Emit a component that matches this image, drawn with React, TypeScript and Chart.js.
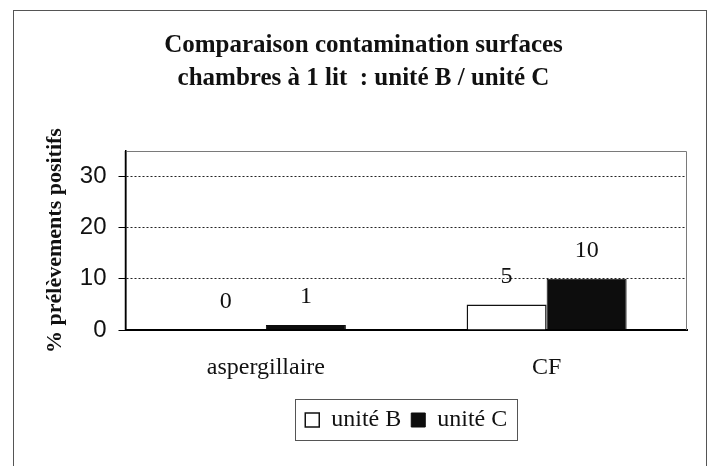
import React, { useEffect, useRef } from "react";
import { Chart, registerables } from "chart.js";

Chart.register(...registerables);

const categories = ["aspergillaire", "CF"];
const seriesNames = ["unité B", "unité C"];
const uniteB = [0, 5];
const uniteC = [1, 10];
const yTickValues = [0, 10, 20, 30];
const titleLines = ["Comparaison contamination surfaces", "chambres à 1 lit  : unité B / unité C"];
const yTitle = "% prélèvements positifs";

const SERIF = "'Liberation Serif', 'Times New Roman', serif";
const SANS = "'Liberation Sans', Arial, sans-serif";

const plotFrame = {
  id: "plotFrame",
  beforeDatasetsDraw(chart: any) {
    const { ctx, chartArea: a } = chart;
    ctx.save();
    ctx.strokeStyle = "#7a7a7a";
    ctx.lineWidth = 1;
    ctx.beginPath();
    ctx.moveTo(a.left, a.top + 0.5);
    ctx.lineTo(a.right - 0.5, a.top + 0.5);
    ctx.lineTo(a.right - 0.5, a.bottom);
    ctx.stroke();
    ctx.strokeStyle = "#000";
    ctx.lineWidth = 1.5;
    ctx.beginPath();
    ctx.moveTo(a.left, a.top);
    ctx.lineTo(a.left, a.bottom);
    ctx.stroke();
    ctx.restore();
  },
};

const valueLabels = {
  id: "valueLabels",
  afterDatasetsDraw(chart: any) {
    const { ctx } = chart;
    ctx.save();
    ctx.font = `24px ${SERIF}`;
    ctx.fillStyle = "#111";
    ctx.textAlign = "center";
    ctx.textBaseline = "middle";
    chart.data.datasets.forEach((ds: any, i: number) => {
      const meta = chart.getDatasetMeta(i);
      meta.data.forEach((bar: any, j: number) => {
        ctx.fillText(String(ds.data[j]), bar.x, bar.y - 28);
      });
    });
    ctx.restore();
  },
};

const legendBox = {
  id: "legendBox",
  afterDraw(chart: any) {
    const lg = chart.legend;
    if (!lg || !lg.legendHitBoxes || !lg.legendHitBoxes.length) return;
    let l = Infinity, r = -Infinity, t = Infinity, b = -Infinity;
    lg.legendHitBoxes.forEach((h: any) => {
      l = Math.min(l, h.left);
      r = Math.max(r, h.left + h.width);
      t = Math.min(t, h.top);
      b = Math.max(b, h.top + h.height);
    });
    const { ctx } = chart;
    ctx.save();
    ctx.strokeStyle = "#555";
    ctx.lineWidth = 1;
    ctx.strokeRect(Math.round(l - 10) + 0.5, Math.round(t - 9) + 0.5, Math.round(r - l + 20), Math.round(b - t + 17));
    ctx.restore();
  },
};

export default function App() {
  const ref = useRef<HTMLCanvasElement | null>(null);

  useEffect(() => {
    if (!ref.current) return;
    const chart = new Chart(ref.current, {
      type: "bar",
      data: {
        labels: categories,
        datasets: [
          {
            label: seriesNames[0],
            data: uniteB,
            backgroundColor: "#ffffff",
            borderColor: "#111",
            borderWidth: 1.5,
          },
          {
            label: seriesNames[1],
            data: uniteC,
            backgroundColor: "#0d0d0d",
            borderColor: "#0d0d0d",
            borderWidth: 1,
          },
        ],
      },
      options: {
        responsive: false,
        maintainAspectRatio: false,
        devicePixelRatio: 1,
        animation: false,
        datasets: {
          bar: { barPercentage: 1, categoryPercentage: 0.57 },
        },
        layout: { padding: { left: 40, right: 27, top: 10, bottom: 24 } },
        plugins: {
          tooltip: { enabled: false },
          title: {
            display: true,
            text: titleLines,
            color: "#111",
            font: { family: SERIF, size: 25, weight: "bold", lineHeight: 1.32 },
            padding: { top: 19, bottom: 56 },
          },
          legend: {
            display: true,
            position: "bottom",
            fullSize: false,
            labels: {
              color: "#111",
              font: { family: SERIF, size: 24 },
              boxWidth: 14,
              boxHeight: 14,
              padding: 10,
            },
          },
        },
        scales: {
          x: {
            grid: { display: false, drawTicks: false },
            border: { display: true, color: "#000", width: 2 },
            ticks: {
              color: "#111",
              font: { family: SERIF, size: 24 },
              padding: 23,
            },
            afterFit: (s: any) => {
              s.height = 68;
            },
          },
          y: {
            min: 0,
            max: 35,
            afterBuildTicks: (s: any) => {
              s.ticks = yTickValues.map((v) => ({ value: v }));
            },
            grid: {
              color: "#222",
              lineWidth: 1,
              tickLength: 7,
              tickColor: "#000",
              tickBorderDash: [],
            } as any,
            border: { display: true, color: "#000", width: 1.5, dash: [2, 2] } as any,
            ticks: {
              color: "#111",
              font: { family: SANS, size: 24 },
              padding: 12,
            },
            title: {
              display: true,
              text: yTitle,
              color: "#111",
              font: { family: SERIF, size: 22, weight: "bold" },
              padding: { top: 2, bottom: 0 },
            },
            afterFit: (s: any) => {
              s.width = 85.5;
            },
          },
        },
      },
      plugins: [plotFrame, valueLabels, legendBox],
    } as any);
    return () => chart.destroy();
  }, []);

  return (
    <div style={{ position: "fixed", left: 0, top: 0, width: 714, height: 466, background: "#fff" }}>
      <div
        style={{
          position: "absolute",
          left: 13,
          top: 10,
          width: 694,
          height: 470,
          border: "1px solid #555",
          boxSizing: "border-box",
          pointerEvents: "none",
        }}
      />
      <canvas ref={ref} width={714} height={466} style={{ position: "absolute", left: 0, top: 0 }} />
    </div>
  );
}
